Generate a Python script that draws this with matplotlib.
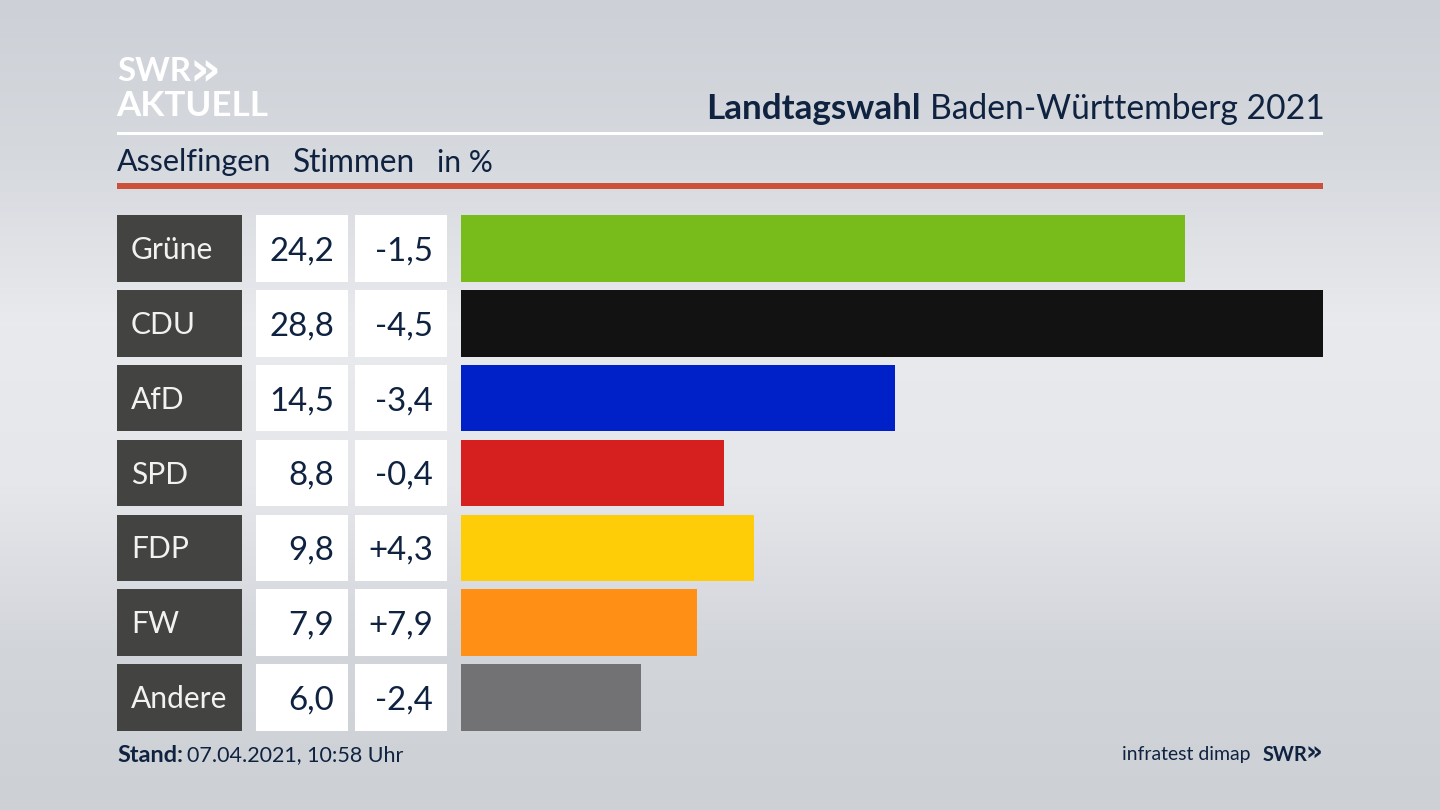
import numpy as np
import matplotlib
matplotlib.use("Agg")
import matplotlib.pyplot as plt
from matplotlib.colors import LinearSegmentedColormap
from matplotlib.patches import Rectangle

parties = ["Grüne", "CDU", "AfD", "SPD", "FDP", "FW", "Andere"]
shares = [24.2, 28.8, 14.5, 8.8, 9.8, 7.9, 6.0]
changes = ["-1,5", "-4,5", "-3,4", "-0,4", "+4,3", "+7,9", "-2,4"]
share_labels = ["24,2", "28,8", "14,5", "8,8", "9,8", "7,9", "6,0"]
colors = ["#78bc1b", "#121212", "#0020c8", "#d61f1f", "#ffcc08", "#ff9015", "#727274"]

NAVY = "#0f2240"
FONT = "Lato"
W, H = 1440, 810
fig = plt.figure(figsize=(W / 100, H / 100), dpi=100)

# page canvas in pixel coordinates
pg = fig.add_axes([0, 0, 1, 1])
pg.set_xlim(0, W)
pg.set_ylim(H, 0)
pg.axis("off")
cmap = LinearSegmentedColormap.from_list("bg", ["#cdd1d7", "#d6d9de", "#e9eaee", "#e6e7eb", "#d2d5da", "#cdd1d6"])
pg.imshow(np.linspace(0, 1, 256)[:, None], cmap=cmap, extent=[0, W, H, 0], aspect="auto", zorder=0)

def t(x, y, s, size=22, color=NAVY, ha="left", weight="normal", family=FONT):
    pg.text(x, y, s, fontsize=size * 0.72, color=color, ha=ha, va="center_baseline",
            fontweight=weight, family=family, zorder=5)

def box(x, y, w, h, c):
    pg.add_patch(Rectangle((x, y), w, h, facecolor=c, edgecolor="none", zorder=3))

# header
t(117, 69, "SWR", 33, "white", weight="bold")
t(189, 66, "»", 48, "white", weight="bold", family="DejaVu Sans")
t(116, 103, "AKTUELL", 35, "white", weight="bold")
box(117, 132, 1206, 3, "white")
box(117, 183, 1206, 6, "#cb5239")
t(930, 106, "Baden-Württemberg 2021", 33.6)
t(921, 106, "Landtagswahl", 35, ha="right", weight="bold")
t(117, 160, "Asselfingen", 30.5)
t(293, 160, "Stimmen", 31.7)
t(437, 160, "in %", 30)

# bars, drawn through the library's scales
top, bottom, bar_px = 215, 731, 66.7
pitch = (bottom - top - bar_px) / (len(parties) - 1)
half = bar_px / pitch / 2
ax = fig.add_axes([461 / W, 1 - bottom / H, (1323 - 461) / W, (bottom - top) / H])
ax.set_xlim(0, max(shares))
ax.set_ylim(len(parties) - 1 + half, -half)
ax.axis("off")
ax.patch.set_alpha(0)
ax.barh(range(len(parties)), shares, height=2 * half, color=colors)

# table columns
for i, (p, v, c) in enumerate(zip(parties, share_labels, changes)):
    y0 = top + i * pitch
    yc = y0 + bar_px / 2
    box(117, y0, 124.5, bar_px, "#434341")
    box(255.5, y0, 92.5, bar_px, "white")
    box(354.5, y0, 92.5, bar_px, "white")
    t(131, yc - 1, p, 30, "#f2f2f2")
    t(334, yc, v, 33, ha="right")
    t(433, yc, c, 33, ha="right")

# footer
t(117, 754, "Stand:", 23.5, weight="bold")
t(187, 753.5, "07.04.2021, 10:58 Uhr", 21.5)
t(1251, 753, "infratest dimap", 19.4, ha="right")
t(1263, 753, "SWR", 20, weight="bold")
t(1305, 751, "»", 26, weight="bold", family="DejaVu Sans")

fig.savefig("out.png", dpi=100)
